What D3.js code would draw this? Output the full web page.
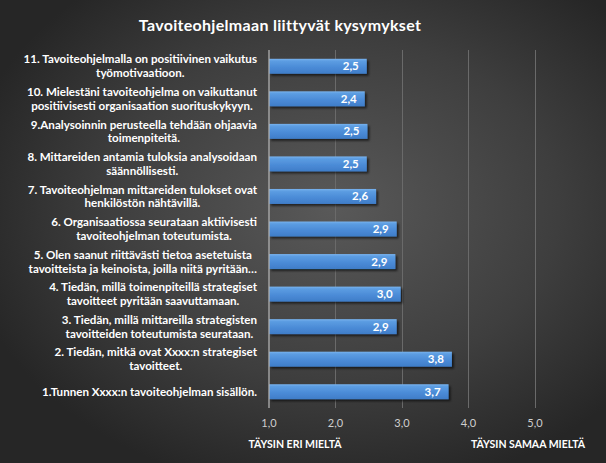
<!DOCTYPE html>
<html><head><meta charset="utf-8">
<script src="https://cdn.jsdelivr.net/npm/d3@7"></script>
<style>html,body{margin:0;padding:0;background:#2a2a2a;}svg{display:block;}</style>
</head><body>
<svg id="c" width="606" height="463"></svg>
<script>
const categories = [
  "11. Tavoiteohjelmalla on positiivinen vaikutus|työmotivaatioon.",
  "10. Mielestäni tavoiteohjelma on vaikuttanut|positiivisesti organisaation suorituskykyyn.",
  "9.Analysoinnin perusteella tehdään ohjaavia|toimenpiteitä.",
  "8. Mittareiden antamia tuloksia analysoidaan|säännöllisesti.",
  "7. Tavoiteohjelman mittareiden tulokset ovat|henkilöstön nähtävillä.",
  "6. Organisaatiossa seurataan aktiivisesti|tavoiteohjelman toteutumista.",
  "5. Olen saanut riittävästi tietoa asetetuista|tavoitteista ja keinoista, joilla niitä pyritään…",
  "4. Tiedän, millä toimenpiteillä strategiset|tavoitteet pyritään saavuttamaan.",
  "3. Tiedän, millä mittareilla strategisten|tavoitteiden toteutumista seurataan.",
  "2. Tiedän, mitkä ovat Xxxx:n strategiset|tavoitteet.",
  "1.Tunnen Xxxx:n tavoiteohjelman sisällön."
];
const values = [2.47, 2.44, 2.48, 2.47, 2.61, 2.92, 2.90, 2.98, 2.92, 3.75, 3.70];
const xTicks = [1, 2, 3, 4, 5];
const title = "Tavoiteohjelmaan liittyvät kysymykset";
const axisTitles = ["TÄYSIN ERI MIELTÄ", "TÄYSIN SAMAA MIELTÄ"];

const svg = d3.select("#c");
const W = 606, H = 463;
const defs = svg.append("defs");
const bg = defs.append("radialGradient").attr("id","bg")
  .attr("cx","0.55").attr("cy","0.45").attr("r","0.62");
bg.append("stop").attr("offset","0").attr("stop-color","#595959");
bg.append("stop").attr("offset","0.6").attr("stop-color","#3e3e3e");
bg.append("stop").attr("offset","1").attr("stop-color","#262626");
const bar = defs.append("linearGradient").attr("id","bar").attr("x1",0).attr("y1",0).attr("x2",0).attr("y2",1);
bar.append("stop").attr("offset","0").attr("stop-color","#79b3ee");
bar.append("stop").attr("offset","0.15").attr("stop-color","#5c9de2");
bar.append("stop").attr("offset","0.6").attr("stop-color","#4a8ad6");
bar.append("stop").attr("offset","1").attr("stop-color","#3f7dc8");
const sh = defs.append("filter").attr("id","sh").attr("x","-0.1").attr("y","-0.5").attr("width","1.2").attr("height","2");
sh.append("feDropShadow").attr("dx",2).attr("dy",2).attr("stdDeviation",1.2).attr("flood-color","#000").attr("flood-opacity",0.6);

svg.append("rect").attr("width",W).attr("height",H).attr("fill","url(#bg)");

const x = d3.scaleLinear().domain([1,5]).range([269,535]);
const y = d3.scaleBand().domain(categories).range([50,408]).paddingInner(0.54).paddingOuter(0.27);

// grid
svg.append("g").selectAll("line").data(xTicks.slice(1)).join("line")
  .attr("x1",d=>x(d)).attr("x2",d=>x(d)).attr("y1",50).attr("y2",408)
  .attr("stroke","#6a6a6a").attr("stroke-width",1).attr("shape-rendering","crispEdges");

// bars
svg.append("g").selectAll("rect").data(categories).join("rect")
  .attr("x",x(1)).attr("y",(d)=>y(d))
  .attr("width",(d,i)=>x(values[i])-x(1)).attr("height",y.bandwidth())
  .attr("fill","url(#bar)").attr("filter","url(#sh)");

// axis line
svg.append("line").attr("x1",x(1)).attr("x2",x(1)).attr("y1",50).attr("y2",408)
  .attr("stroke","#b0b0b0").attr("stroke-width",1.3);

const FONT = "Lato, 'Open Sans', sans-serif";
// value labels
svg.append("g").selectAll("text").data(categories).join("text")
  .attr("x",(d,i)=>x(values[i])-8).attr("y",d=>y(d)+y.bandwidth()/2)
  .attr("dy","0.35em").attr("text-anchor","end")
  .attr("font-family",FONT).attr("font-weight","bold").attr("font-size",11.5)
  .attr("fill","#ffffff").text((d,i)=>d3.format(".1f")(values[i]).replace(".",","));

// category labels
const lab = svg.append("g");
categories.forEach(c=>{
  const lines = c.split("|");
  const cy = y(c)+y.bandwidth()/2;
  const g = lab.append("g");
  const ts = lines.map((l,k)=>g.append("text")
    .attr("y", cy + (k-(lines.length-1)/2)*13.8).attr("dy","0.35em")
    .attr("text-anchor","middle").attr("font-family",FONT).attr("font-weight","bold")
    .attr("font-size",11.6).attr("fill","#ffffff").text(l));
  const wmax = d3.max(ts, t=>t.node().getComputedTextLength());
  ts.forEach(t=>t.attr("x", 257 - wmax/2));
});

// ticks
svg.append("g").selectAll("text").data(xTicks).join("text")
  .attr("x",d=>x(d)).attr("y",423).attr("dy","0.35em").attr("text-anchor","middle")
  .attr("font-family",FONT).attr("font-size",11).attr("fill","#cfcfcf")
  .text(d=>d3.format(".1f")(d).replace(".",","));

// axis titles
svg.append("text").attr("x",295).attr("y",444).attr("dy","0.35em").attr("text-anchor","middle")
  .attr("font-family",FONT).attr("font-weight","bold").attr("font-size",10.5).attr("fill","#ffffff").text(axisTitles[0]);
svg.append("text").attr("x",528).attr("y",444).attr("dy","0.35em").attr("text-anchor","middle")
  .attr("font-family",FONT).attr("font-weight","bold").attr("font-size",10.5).attr("fill","#ffffff").text(axisTitles[1]);

// title
svg.append("text").attr("x",280).attr("y",25).attr("dy","0.35em").attr("text-anchor","middle")
  .attr("font-family",FONT).attr("font-weight","bold").attr("font-size",16)
  .attr("letter-spacing",0.3).attr("fill","#ffffff").text(title);
</script>
</body></html>
